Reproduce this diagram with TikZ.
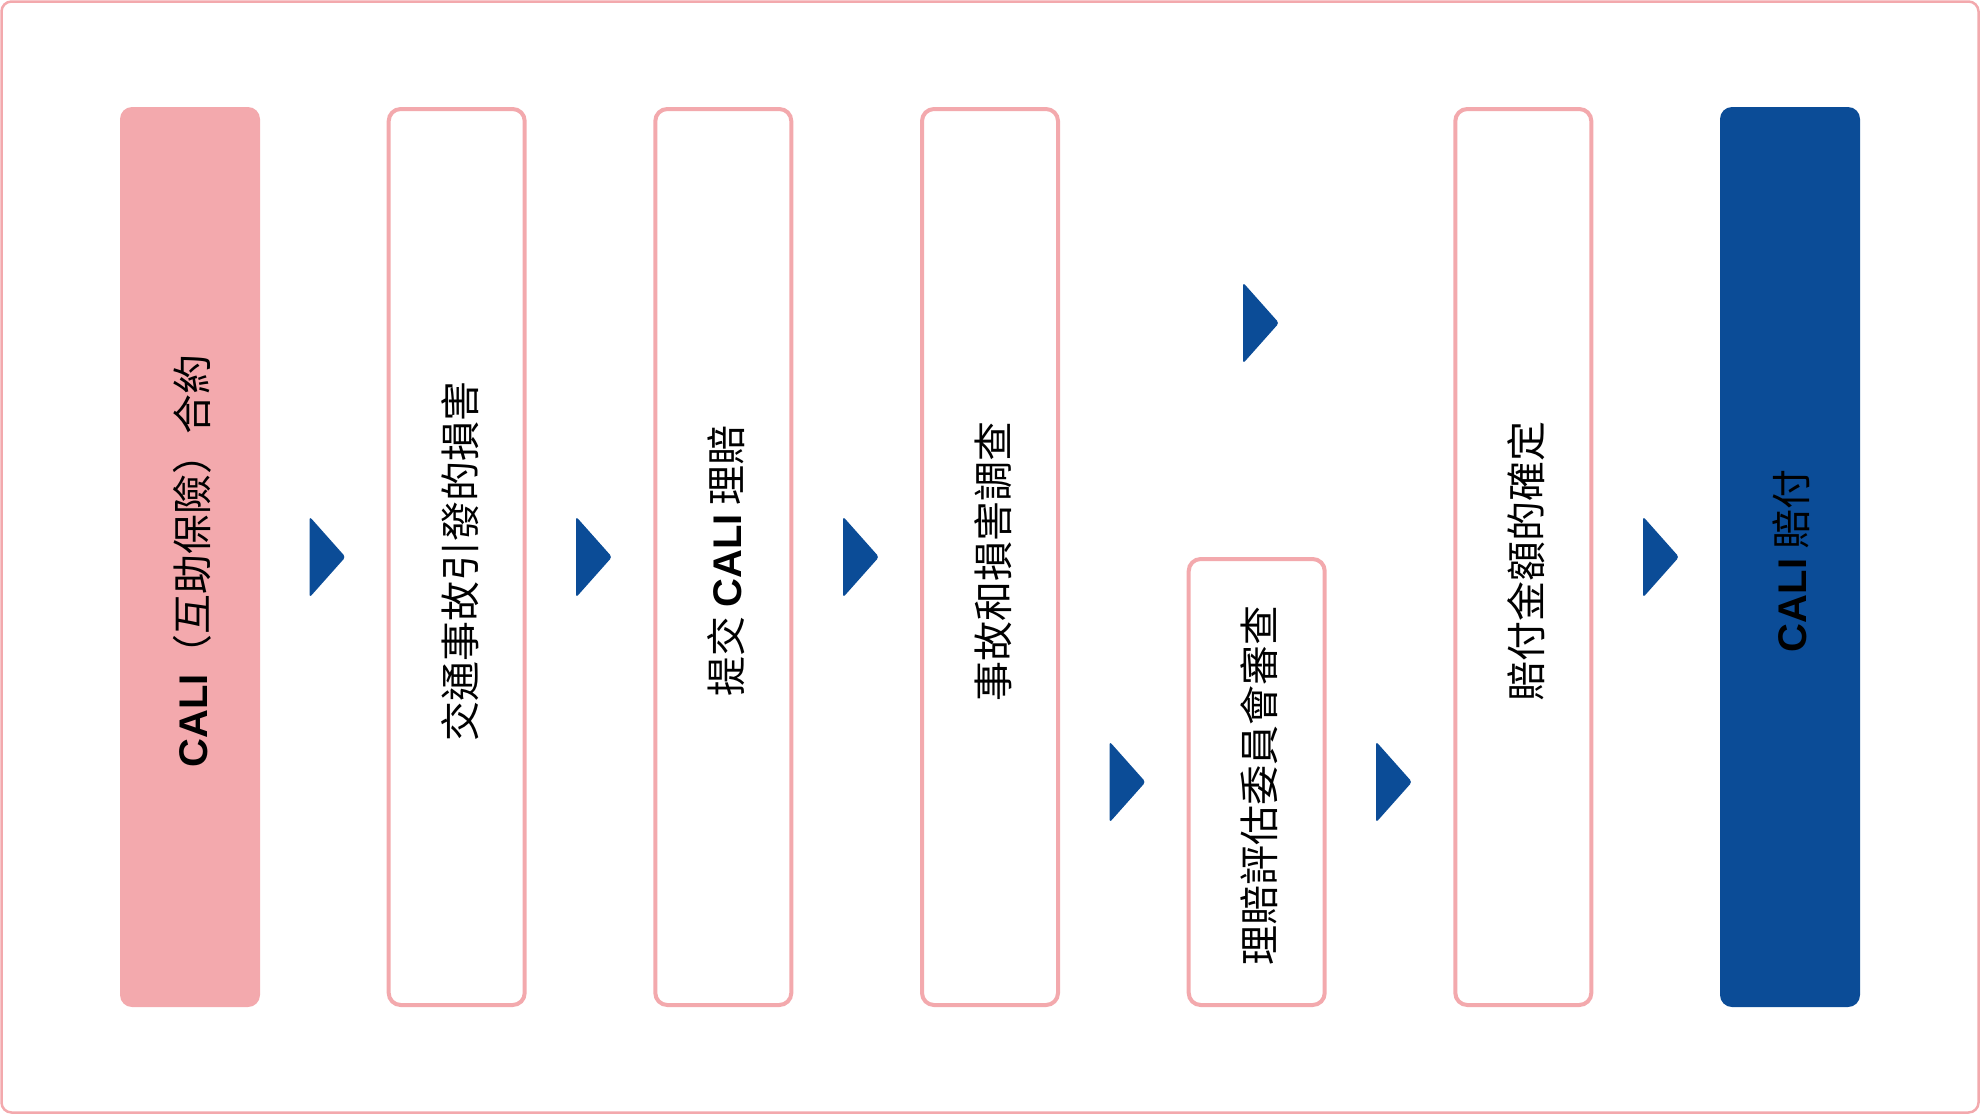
\documentclass[tikz,border=0pt]{standalone}
\usepackage{fontspec}
\setmainfont{Noto Sans CJK TC}
\newfontfamily\arial{Liberation Sans}
\definecolor{pinkc}{HTML}{F3A9AD}
\definecolor{bluec}{HTML}{0B4C97}
\newcommand{\cali}{{\arial\bfseries CALI}}
\tikzset{
  frame/.style={draw=pinkc, line width=2.5pt, rounded corners=10pt},
  stepbox/.style={rectangle, draw=pinkc, line width=4pt, fill=white, rounded corners=12pt,
    minimum width=136pt, inner sep=0pt},
  pinkbox/.style={rectangle, fill=pinkc, rounded corners=12pt, minimum width=140pt, minimum height=900pt, inner sep=0pt},
  bluebox/.style={rectangle, fill=bluec, rounded corners=12pt, minimum width=140pt, minimum height=900pt, inner sep=0pt},
  label/.style={rotate=90, inner sep=0pt, text=black, font=\fontsize{40}{48}\selectfont},
  tri/.pic={\fill[bluec, rounded corners=3pt] (0,-40.5) -- (36,0) -- (0,40.5) -- cycle;}
}
\begin{document}
\begin{tikzpicture}[x=1pt, y=-1pt]
\useasboundingbox (0,0) rectangle (1980,1114);
\draw[frame] (1.5,1.5) rectangle (1978.5,1112.5);
% boxes
\node[pinkbox] (b1) at (190,557) {};
\node[stepbox, minimum height=896pt] (b2) at (456.7,557) {};
\node[stepbox, minimum height=896pt] (b3) at (723.3,557) {};
\node[stepbox, minimum height=896pt] (b4) at (990,557) {};
\node[stepbox, minimum height=446pt] (b5) at (1256.7,782) {};
\node[stepbox, minimum height=896pt] (b6) at (1523.3,557) {};
\node[bluebox] (b7) at (1790,557) {};
% texts
\node[label] (t1) at (192,561) {\cali（互助保險）合約};
\node[label] (t2) at (459.7,561) {交通事故引發的損害};
\node[label] (t3) at (726.3,561) {提交 \cali\ 理賠};
\node[label] (t4) at (993,561) {事故和損害調查};
\node[label] (t5) at (1259.7,785) {理賠評估委員會審查};
\node[label] (t6) at (1526.3,561) {賠付金額的確定};
\node[label] (t7) at (1791,561) {\cali\ 賠付};
% arrows
\coordinate (a1) at (309.5,557);
\coordinate (a2) at (576,557);
\coordinate (a3) at (843,557);
\coordinate (a4) at (1109.5,782);
\coordinate (a5) at (1376,782);
\coordinate (a6) at (1643,557);
\coordinate (a7) at (1243,323);
\foreach \a in {a1,a2,a3,a4,a5,a6,a7} \pic at (\a) {tri};
\end{tikzpicture}
\end{document}
